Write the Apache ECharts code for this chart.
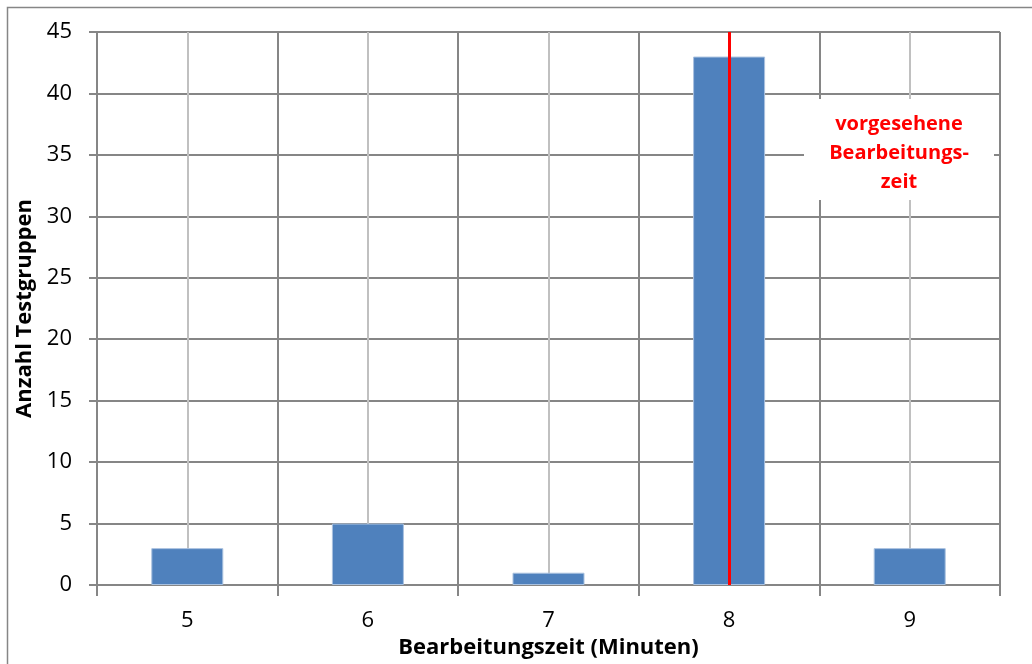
<!DOCTYPE html>
<html>
<head>
<meta charset="utf-8">
<script src="https://cdn.jsdelivr.net/npm/echarts@6/dist/echarts.min.js"></script>
<style>
  html, body { margin: 0; padding: 0; background: #fff; }
  #chart { width: 1032px; height: 664px; }
</style>
</head>
<body>
<div id="chart"></div>
<script>
// Bearbeitungszeit in Minuten und Anzahl der Testgruppen
const minutes = ['5', '6', '7', '8', '9'];
const groups = [3, 5, 1, 43, 3];
const plannedTime = '8';
const yTicks = { min: 0, max: 45, step: 5 };
const noteLines = ['vorgesehene', 'Bearbeitungs-', 'zeit'];

const FONT = '"Open Sans", "Noto Sans", sans-serif';
const chart = echarts.init(document.getElementById('chart'), null, { renderer: 'canvas' });

chart.setOption({
  animation: false,
  backgroundColor: '#fff',
  grid: { left: 97, right: 32, top: 32, bottom: 79, containLabel: false },
  xAxis: [
    {
      type: 'category',
      data: minutes,
      boundaryGap: true,
      name: 'Bearbeitungszeit (Minuten)',
      nameLocation: 'middle',
      nameGap: 44,
      nameTextStyle: { fontFamily: FONT, fontWeight: 'bold', fontSize: 22, color: '#000' },
      axisLine: { lineStyle: { color: '#868686', width: 2 } },
      axisTick: { show: true, length: 11, lineStyle: { color: '#868686', width: 2 } },
      axisLabel: { fontFamily: FONT, fontSize: 22, color: '#000', margin: 25 },
      splitLine: { show: true, lineStyle: { color: '#868686', width: 2 } },
      z: 1
    },
    {
      // light lines through the category centres
      type: 'value',
      min: 4.5,
      max: 9.5,
      interval: 0.5,
      show: true,
      position: 'bottom',
      axisLine: { show: false },
      axisTick: { show: false },
      axisLabel: { show: false },
      splitLine: { show: true, lineStyle: { color: ['rgba(0,0,0,0)', '#c0c0c0'], width: 2 } }
    }
  ],
  yAxis: {
    type: 'value',
    min: yTicks.min,
    max: yTicks.max,
    interval: yTicks.step,
    name: 'Anzahl Testgruppen',
    nameLocation: 'middle',
    nameGap: 55,
    nameTextStyle: { fontFamily: FONT, fontWeight: 'bold', fontSize: 22, color: '#000' },
    axisLine: { show: true, lineStyle: { color: '#868686', width: 2 } },
    axisTick: { show: true, length: 8, lineStyle: { color: '#868686', width: 2 } },
    axisLabel: { fontFamily: FONT, fontSize: 22, color: '#000', margin: 25 },
    splitLine: { show: true, lineStyle: { color: '#868686', width: 2 } }
  },
  series: [
    {
      type: 'bar',
      xAxisIndex: 0,
      data: groups,
      barWidth: 72,
      itemStyle: { color: '#4f81bd', borderColor: '#a9c1df', borderWidth: 1 },
      markLine: {
        silent: true,
        symbol: 'none',
        label: { show: false },
        lineStyle: { color: '#ff0000', width: 3, type: 'solid' },
        data: [{ xAxis: plannedTime }]
      },
      z: 3
    }
  ],
  graphic: [
    {
      type: 'rect',
      shape: { x: 7.5, y: 7.5, width: 1030, height: 670 },
      style: { fill: 'none', stroke: '#868686', lineWidth: 1.5 },
      silent: true
    },
    {
      type: 'rect',
      shape: { x: 804, y: 99, width: 190, height: 101 },
      style: { fill: '#ffffff' },
      z: 10
    },
    {
      type: 'text',
      x: 899,
      y: 110,
      z: 11,
      style: {
        text: noteLines.join('\n'),
        fill: '#ff0000',
        font: 'bold 20px ' + FONT,
        align: 'center',
        verticalAlign: 'top',
        lineHeight: 29
      }
    }
  ]
});
</script>
</body>
</html>
